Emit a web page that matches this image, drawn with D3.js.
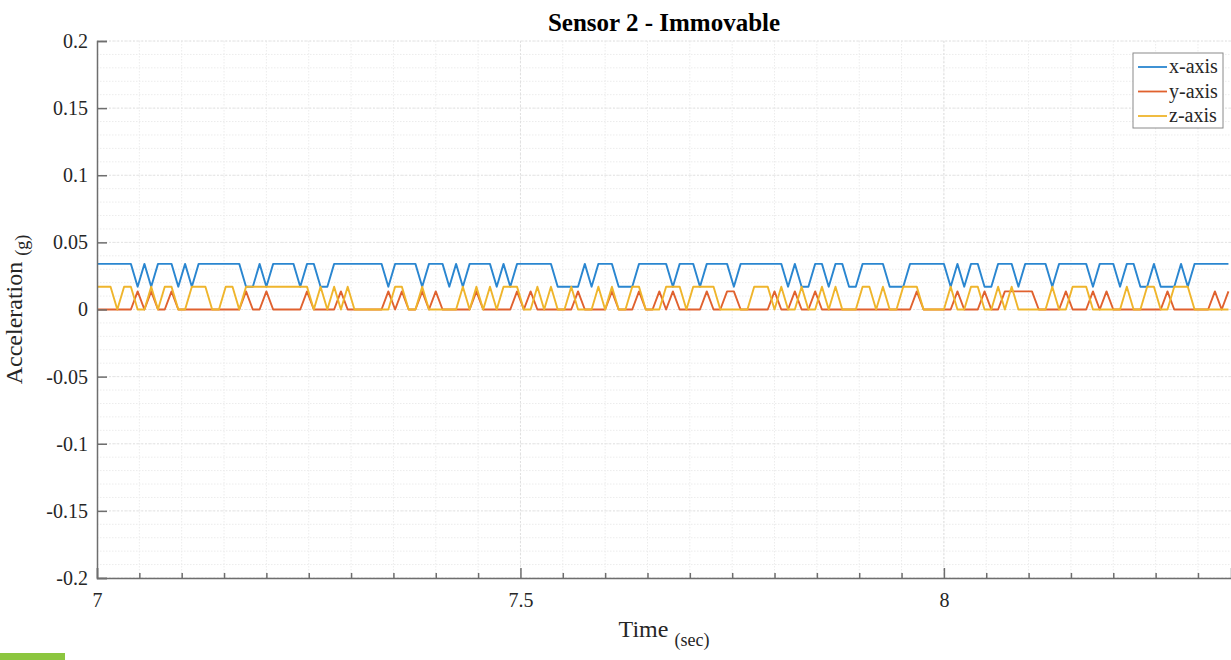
<!DOCTYPE html>
<html>
<head>
<meta charset="utf-8">
<script src="https://cdn.jsdelivr.net/npm/d3@7"></script>
<style>
    body { margin: 0; background: #fff; }
    text { font-family: "Liberation Serif", "Times New Roman", serif; fill: #262626; }
</style>
</head>
<body>
<svg id="svg"></svg>
<script>
// sampled at 125 Hz starting at t = 7 s
const startTime = 7;
const sampleRate = 125;

const H = 0.034, L = 0.017;   // x-axis levels
const R = 0.0135;             // y-axis level
const Y = 0.017;              // z-axis level

const xAxisValues = [
    H, H, H, H, H, H, L, H, L, H,
    H, H, L, H, L, H, H, H, H, H,
    H, H, L, L, H, L, H, H, H, H,
    L, H, H, L, L, H, H, H, H, H,
    H, H, H, L, H, H, H, H, L, H,
    H, H, L, H, L, H, H, H, H, L,
    H, L, H, H, H, H, H, H, L, L,
    L, L, H, L, H, H, H, L, L, L,
    H, H, H, H, H, L, H, H, H, L,
    H, H, H, H, L, H, H, H, H, H,
    H, H, L, H, L, L, H, H, L, H,
    H, L, L, H, H, H, H, L, L, L,
    H, H, H, H, H, H, L, H, L, H,
    H, L, L, H, H, H, L, H, H, H,
    H, L, H, H, H, H, H, L, H, H,
    H, L, H, H, L, L, H, L, L, L,
    H, L, H, H, H, H, H, H
];

const yAxisValues = [
    0, 0, 0, 0, 0, 0, R, 0, R, 0,
    0, R, 0, 0, 0, 0, 0, 0, 0, 0,
    0, 0, R, 0, 0, R, 0, 0, 0, 0,
    0, R, 0, 0, 0, 0, R, 0, 0, 0,
    0, 0, 0, R, 0, R, 0, 0, R, 0,
    R, 0, 0, 0, 0, 0, R, 0, 0, 0,
    0, 0, R, 0, R, 0, 0, 0, 0, 0,
    0, R, 0, 0, 0, 0, R, 0, 0, 0,
    R, 0, 0, R, 0, R, 0, 0, 0, 0,
    R, 0, 0, R, R, 0, 0, 0, 0, 0,
    R, 0, 0, R, 0, 0, R, 0, 0, 0,
    0, 0, 0, 0, 0, 0, 0, 0, 0, 0,
    0, R, 0, 0, 0, 0, 0, R, 0, 0,
    0, R, 0, 0, R, R, R, R, R, 0,
    0, 0, 0, R, 0, 0, 0, R, 0, R,
    0, 0, 0, 0, 0, 0, 0, 0, R, 0,
    0, 0, 0, 0, 0, R, 0, R
];

const zAxisValues = [
    Y, Y, Y, 0, Y, Y, 0, 0, Y, 0,
    Y, Y, 0, 0, Y, Y, Y, 0, 0, Y,
    Y, 0, Y, Y, Y, Y, Y, Y, Y, Y,
    Y, Y, 0, Y, 0, Y, 0, Y, 0, 0,
    0, 0, 0, 0, Y, Y, 0, 0, Y, 0,
    0, 0, 0, 0, Y, 0, Y, 0, Y, 0,
    Y, Y, Y, 0, 0, Y, 0, Y, 0, 0,
    Y, 0, 0, 0, Y, 0, Y, 0, 0, Y,
    Y, 0, 0, 0, Y, Y, Y, 0, Y, Y,
    Y, Y, 0, 0, 0, 0, 0, Y, Y, Y,
    0, Y, 0, 0, Y, 0, 0, Y, 0, Y,
    0, 0, 0, Y, Y, 0, Y, 0, 0, Y,
    Y, Y, 0, 0, 0, 0, Y, 0, 0, Y,
    Y, 0, 0, Y, 0, Y, 0, 0, 0, 0,
    0, Y, 0, 0, Y, Y, Y, 0, 0, 0,
    0, 0, Y, 0, 0, Y, Y, 0, 0, Y,
    Y, Y, 0, 0, 0, 0, 0, 0
];

const seriesNames = ["x-axis", "y-axis", "z-axis"];
const seriesColors = ["#2a86d0", "#e0612e", "#efb52c"];
const seriesValues = [xAxisValues, yAxisValues, zAxisValues];

const xTickValues = [7, 7.5, 8];
const yTickValues = [0.2, 0.15, 0.1, 0.05, 0, -0.05, -0.1, -0.15, -0.2];

const width = 1231;
const height = 660;
const margin = { top: 41, right: 0, bottom: 82, left: 97 };
const chartWidth = width - margin.left - margin.right;
const chartHeight = height - margin.top - margin.bottom;

let svg = d3.select("#svg")
    .attr("width", width)
    .attr("height", height);

let chart = svg.append("g")
    .attr("transform", "translate(" + margin.left + "," + margin.top + ")");

let xScale = d3.scaleLinear()
    .domain([7, 8.339])
    .range([0, chartWidth]);

let yScale = d3.scaleLinear()
    .domain([-0.2, 0.2])
    .range([chartHeight, 0]);

// grid: minor every 0.05 s / 0.01 g, major on the labelled ticks
const minorX = d3.range(1, 27).map(i => 7 + i * 0.05);
const minorY = d3.range(-20, 21).map(i => i / 100);

chart.append("g")
    .selectAll("line")
    .data(minorY)
    .enter().append("line")
    .attr("x1", 0)
    .attr("x2", chartWidth)
    .attr("y1", d => yScale(d))
    .attr("y2", d => yScale(d))
    .attr("stroke", "#ececec")
    .attr("stroke-dasharray", "1.5,1.5");

chart.append("g")
    .selectAll("line")
    .data(minorX)
    .enter().append("line")
    .attr("x1", d => xScale(d))
    .attr("x2", d => xScale(d))
    .attr("y1", 0)
    .attr("y2", chartHeight)
    .attr("stroke", "#ececec")
    .attr("stroke-dasharray", "1.5,1.5");

chart.append("g")
    .selectAll("line")
    .data(xTickValues.slice(1))
    .enter().append("line")
    .attr("x1", d => xScale(d))
    .attr("x2", d => xScale(d))
    .attr("y1", 0)
    .attr("y2", chartHeight)
    .attr("stroke", "#e0e0e0")
    .attr("stroke-dasharray", "2,2");

chart.append("g")
    .selectAll("line")
    .data(yTickValues)
    .enter().append("line")
    .attr("x1", 0)
    .attr("x2", chartWidth)
    .attr("y1", d => yScale(d))
    .attr("y2", d => yScale(d))
    .attr("stroke", "#e4e4e4")
    .attr("stroke-dasharray", "2,2");

// clip the traces to the plot box
svg.append("clipPath")
    .attr("id", "plot-clip")
    .append("rect")
    .attr("width", chartWidth)
    .attr("height", chartHeight);

const line = d3.line()
    .x((d, i) => xScale(startTime + i / sampleRate))
    .y(d => yScale(d));

chart.append("g")
    .attr("clip-path", "url(#plot-clip)")
    .selectAll("path")
    .data(seriesValues)
    .enter().append("path")
    .attr("d", line)
    .attr("fill", "none")
    .attr("stroke", (d, i) => seriesColors[i])
    .attr("stroke-width", 1.9)
    .attr("stroke-linejoin", "round");

// axes, ticks pointing inward like matlab
let xAxis = chart.append("g")
    .attr("transform", "translate(0," + chartHeight + ")")
    .call(d3.axisBottom(xScale).tickValues(xTickValues).tickSize(-10).tickPadding(15).tickFormat(d => String(d)));

chart.append("g")
    .attr("transform", "translate(0," + chartHeight + ")")
    .call(d3.axisBottom(xScale).tickValues(minorX.filter(d => Math.abs(d - 7.5) > 1e-6 && Math.abs(d - 8) > 1e-6)).tickSize(-5).tickFormat(""))
    .call(g => g.select(".domain").remove());

let yAxis = chart.append("g")
    .call(d3.axisLeft(yScale).tickValues(yTickValues).tickSize(-10).tickPadding(9).tickFormat(d => String(+d.toFixed(2))));

chart.selectAll(".domain, .tick line")
    .attr("stroke", "#6e6e6e")
    .attr("stroke-width", 1.5);

chart.selectAll(".tick text")
    .style("font-size", "20px")
    .style("font-family", "Liberation Serif")
    .attr("fill", "#262626");

// title
svg.append("text")
    .attr("x", margin.left + chartWidth / 2)
    .attr("y", 31)
    .attr("text-anchor", "middle")
    .style("font-size", "25px")
    .style("font-weight", "bold")
    .style("fill", "#000")
    .text("Sensor 2 - Immovable");

// x label
let xLabel = svg.append("text")
    .attr("x", margin.left + chartWidth / 2)
    .attr("y", 637)
    .attr("text-anchor", "middle")
    .style("font-size", "24px");
xLabel.append("tspan").text("Time ");
xLabel.append("tspan").attr("dy", 9).style("font-size", "18px").text("(sec)");

// y label
let yLabel = svg.append("text")
    .attr("transform", "translate(22," + (margin.top + chartHeight / 2) + ") rotate(-90)")
    .attr("text-anchor", "middle")
    .style("font-size", "24px");
yLabel.append("tspan").text("Acceleration ");
yLabel.append("tspan").attr("dy", 6).style("font-size", "18px").text("(g)");

// legend
let legend = svg.append("g")
    .attr("transform", "translate(1133,53)");

legend.append("rect")
    .attr("width", 90)
    .attr("height", 75)
    .attr("fill", "#fff")
    .attr("stroke", "#8a8a8a")
    .attr("stroke-width", 1);

let legendItems = legend.selectAll(".legend-item")
    .data(seriesNames)
    .enter().append("g")
    .attr("class", "legend-item")
    .attr("transform", (d, i) => `translate(0, ${14 + i * 24.5})`);

legendItems.append("line")
    .attr("x1", 5)
    .attr("x2", 34)
    .attr("stroke", (d, i) => seriesColors[i])
    .attr("stroke-width", 1.8);

legendItems.append("text")
    .attr("x", 36)
    .attr("dy", "0.32em")
    .style("font-size", "20px")
    .text(d => d);

// green strip at the bottom left of the screenshot
svg.append("rect")
    .attr("x", 0)
    .attr("y", 653)
    .attr("width", 65)
    .attr("height", 7)
    .attr("fill", "#8cc63f");
</script>
</body>
</html>
